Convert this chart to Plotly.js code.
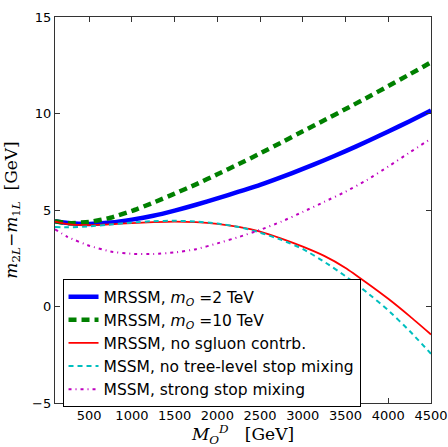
<!DOCTYPE html>
<html>
<head>
<meta charset="utf-8">
<script src="https://cdn.plot.ly/plotly-3.0.1.min.js"></script>
<style>html,body{margin:0;padding:0;background:#fff;}#chart{width:448px;height:447px;}</style>
</head>
<body>
<div id="chart"></div>
<script>
// Data
var massMOD = [100, 250, 500, 750, 1000, 1250, 1500, 1750, 2000, 2250, 2500, 2750, 3000, 3250, 3500, 3750, 4000, 4250, 4500];
var mrssm2TeV = [4.42, 4.33, 4.28, 4.35, 4.5, 4.7, 4.97, 5.27, 5.6, 5.95, 6.3, 6.7, 7.13, 7.58, 8.05, 8.55, 9.07, 9.6, 10.15];
var mrssm10TeV = [4.42, 4.32, 4.38, 4.6, 4.95, 5.38, 5.85, 6.33, 6.85, 7.38, 7.93, 8.5, 9.08, 9.65, 10.23, 10.82, 11.42, 12.03, 12.65];
var mrssmNoSgluon = [4.4, 4.27, 4.22, 4.26, 4.32, 4.37, 4.4, 4.37, 4.28, 4.12, 3.88, 3.52, 3.1, 2.62, 2.0, 1.22, 0.4, -0.5, -1.45];
var mssmNoMixing = [4.12, 4.1, 4.15, 4.25, 4.35, 4.42, 4.44, 4.4, 4.3, 4.12, 3.83, 3.45, 2.98, 2.32, 1.57, 0.73, -0.2, -1.27, -2.45];
var mssmStrongMixing = [4.0, 3.6, 3.15, 2.85, 2.73, 2.72, 2.8, 2.97, 3.27, 3.6, 3.97, 4.4, 4.9, 5.42, 5.95, 6.55, 7.25, 7.98, 8.7];
var seriesNames = [
  "MRSSM, <i>m</i><sub><i>O</i></sub> =2 TeV",
  "MRSSM, <i>m</i><sub><i>O</i></sub> =10 TeV",
  "MRSSM, no sgluon contrb.",
  "MSSM, no tree-level stop mixing",
  "MSSM, strong stop mixing"
];
var xTicks = [500, 1000, 1500, 2000, 2500, 3000, 3500, 4000, 4500];
var yTicks = [-5, 0, 5, 10, 15];

var traces = [
  {x: massMOD, y: mrssm2TeV, name: seriesNames[0], mode: 'lines', line: {color: '#0000ff', width: 4.5}},
  {x: massMOD, y: mrssm10TeV, name: seriesNames[1], mode: 'lines', line: {color: '#008000', width: 4.5, dash: '8px,5px'}},
  {x: massMOD, y: mrssmNoSgluon, name: seriesNames[2], mode: 'lines', line: {color: '#ff0000', width: 1.8}},
  {x: massMOD, y: mssmNoMixing, name: seriesNames[3], mode: 'lines', line: {color: '#00bfbf', width: 2, dash: '5px,4px'}},
  {x: massMOD, y: mssmStrongMixing, name: seriesNames[4], mode: 'lines', line: {color: '#bf00bf', width: 2, dash: '3px,4px,1px,4px'}}
];
traces.forEach(function(t){ t.line.shape = 'spline'; t.line.smoothing = 0.5; });

var axisCommon = {
  showgrid: false, zeroline: false, showline: true, mirror: 'ticks',
  linecolor: '#333', linewidth: 1.2, ticks: 'inside', ticklen: 5, tickcolor: '#333',
  tickfont: {family: 'DejaVu Sans', size: 13, color: '#000'}
};

var layout = {
  width: 448, height: 447,
  margin: {l: 55, r: 17, t: 17, b: 44},
  paper_bgcolor: '#fff', plot_bgcolor: '#fff',
  showlegend: true,
  legend: {
    x: 0.02, y: 0.321, xanchor: 'left', yanchor: 'top',
    bordercolor: '#000', borderwidth: 1, bgcolor: '#fff',
    font: {family: 'DejaVu Sans', size: 15.5, color: '#000'},
    tracegroupgap: 0, itemwidth: 30
  },
  xaxis: Object.assign({}, axisCommon, {
    range: [100, 4500], tickvals: xTicks, ticktext: xTicks.map(String),
    title: {text: '<i>M</i><sub><i>O</i></sub><sup><i>D</i></sup>   [GeV]', font: {family: 'DejaVu Serif', size: 17, color: '#000'}, standoff: 6}
  }),
  yaxis: Object.assign({}, axisCommon, {
    range: [-5, 15], tickvals: yTicks, ticktext: yTicks.map(function(v){return v < 0 ? '\u2212' + Math.abs(v) : String(v);}),
    title: {text: '<i>m</i><sub>2<i>L</i></sub>\u2212<i>m</i><sub>1<i>L</i></sub>  [GeV]', font: {family: 'DejaVu Serif', size: 17, color: '#000'}, standoff: 10}
  })
};

Plotly.newPlot('chart', traces, layout, {displayModeBar: false, staticPlot: true});
</script>
</body>
</html>
